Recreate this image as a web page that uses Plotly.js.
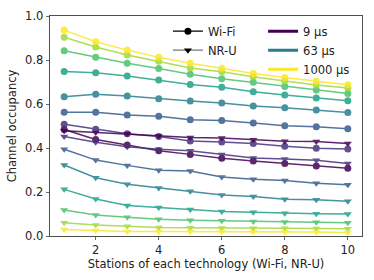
<!DOCTYPE html>
<html>
<head>
<meta charset="utf-8">
<script src="https://cdn.plot.ly/plotly-3.0.1.min.js"></script>
<style>html,body{margin:0;padding:0;background:#fff;}#chart{width:374px;height:280px;}</style>
</head>
<body>
<div id="chart"></div>
<script>
const stations = [1, 2, 3, 4, 5, 6, 7, 8, 9, 10];
const slotLabels = ["9 µs", "16 µs", "34 µs", "63 µs", "125 µs", "250 µs", "500 µs", "1000 µs"];
const slotColors = ["#440154", "#46327e", "#365c8d", "#277f8e", "#1fa187", "#4ac16d", "#a0da39", "#fde725"];

const wifi9    = [0.484, 0.439, 0.414, 0.388, 0.371, 0.353, 0.341, 0.330, 0.318, 0.308];
const wifi16   = [0.508, 0.485, 0.465, 0.452, 0.432, 0.427, 0.420, 0.408, 0.399, 0.395];
const wifi34   = [0.563, 0.562, 0.550, 0.544, 0.528, 0.525, 0.514, 0.501, 0.497, 0.487];
const wifi63   = [0.633, 0.644, 0.636, 0.624, 0.614, 0.605, 0.591, 0.583, 0.573, 0.561];
const wifi125  = [0.748, 0.742, 0.727, 0.709, 0.689, 0.676, 0.656, 0.641, 0.627, 0.615];
const wifi250  = [0.842, 0.812, 0.785, 0.761, 0.735, 0.715, 0.699, 0.680, 0.664, 0.648];
const wifi500  = [0.903, 0.859, 0.823, 0.794, 0.764, 0.747, 0.724, 0.705, 0.686, 0.673];
const wifi1000 = [0.936, 0.883, 0.845, 0.812, 0.785, 0.762, 0.739, 0.720, 0.703, 0.688];

const nru9    = [0.478, 0.471, 0.465, 0.455, 0.448, 0.445, 0.438, 0.431, 0.429, 0.421];
const nru16   = [0.452, 0.426, 0.406, 0.394, 0.388, 0.371, 0.355, 0.350, 0.344, 0.329];
const nru34   = [0.394, 0.345, 0.321, 0.299, 0.295, 0.268, 0.258, 0.252, 0.240, 0.233];
const nru63   = [0.323, 0.265, 0.235, 0.218, 0.203, 0.186, 0.180, 0.167, 0.165, 0.158];
const nru125  = [0.212, 0.168, 0.139, 0.129, 0.120, 0.111, 0.108, 0.103, 0.101, 0.100];
const nru250  = [0.118, 0.095, 0.085, 0.076, 0.072, 0.069, 0.066, 0.064, 0.062, 0.060];
const nru500  = [0.060, 0.050, 0.044, 0.039, 0.038, 0.036, 0.035, 0.035, 0.034, 0.033];
const nru1000 = [0.030, 0.025, 0.021, 0.021, 0.021, 0.019, 0.019, 0.019, 0.018, 0.016];

const wifiSeries = [wifi9, wifi16, wifi34, wifi63, wifi125, wifi250, wifi500, wifi1000];
const nruSeries  = [nru9, nru16, nru34, nru63, nru125, nru250, nru500, nru1000];
const legendSlots = [0, 3, 7];

const traces = [];
wifiSeries.forEach((ys, i) => {
  traces.push({x: stations, y: ys, mode: 'lines+markers', type: 'scatter', showlegend: false,
    name: 'Wi-Fi ' + slotLabels[i], opacity: 0.85,
    line: {color: slotColors[i], width: 1.5}, marker: {symbol: 'circle', size: 7, color: slotColors[i]}});
});
nruSeries.forEach((ys, i) => {
  traces.push({x: stations, y: ys, mode: 'lines+markers', type: 'scatter', showlegend: false,
    name: 'NR-U ' + slotLabels[i], opacity: 0.85,
    line: {color: slotColors[i], width: 1.5}, marker: {symbol: 'triangle-down', size: 7, color: slotColors[i]}});
});
traces.push({x: [null], y: [null], mode: 'lines+markers', type: 'scatter', name: 'Wi-Fi', legend: 'legend',
  line: {color: '#000', width: 1.2}, marker: {symbol: 'circle', size: 7, color: '#000'}});
traces.push({x: [null], y: [null], mode: 'lines+markers', type: 'scatter', name: 'NR-U', legend: 'legend',
  line: {color: '#777', width: 1.2}, marker: {symbol: 'triangle-down', size: 7, color: '#000'}});
legendSlots.forEach(i => {
  traces.push({x: [null], y: [null], mode: 'lines', type: 'scatter', name: slotLabels[i], legend: 'legend2',
    line: {color: slotColors[i], width: 3}});
});

const font = {family: 'DejaVu Sans', size: 11.5, color: '#222'};
const layout = {
  width: 374, height: 280,
  margin: {l: 50, r: 12, t: 16, b: 44},
  paper_bgcolor: '#fff', plot_bgcolor: '#fff',
  font: font,
  xaxis: {range: [0.55, 10.45], tickvals: [2, 4, 6, 8, 10], ticks: 'outside', ticklen: 3.5, tickwidth: 0.8,
    showline: true, mirror: true, linecolor: '#222', linewidth: 0.8, showgrid: false, zeroline: false,
    title: {text: 'Stations of each technology (Wi-Fi, NR-U)', font: font, standoff: 2}},
  yaxis: {range: [0, 1], tickvals: [0, 0.2, 0.4, 0.6, 0.8, 1.0], tickformat: '.1f', ticks: 'outside', ticklen: 3.5, tickwidth: 0.8,
    showline: true, mirror: true, linecolor: '#222', linewidth: 0.8, showgrid: false, zeroline: false,
    title: {text: 'Channel occupancy', font: font, standoff: 5}},
  legend: {x: 0.378, y: 0.997, xanchor: 'left', yanchor: 'top', bgcolor: 'rgba(0,0,0,0)', font: font, tracegroupgap: 0},
  legend2: {x: 0.683, y: 0.997, xanchor: 'left', yanchor: 'top', bgcolor: 'rgba(0,0,0,0)', font: font, tracegroupgap: 0}
};
Plotly.newPlot('chart', traces, layout, {displayModeBar: false, staticPlot: true});
</script>
</body>
</html>
